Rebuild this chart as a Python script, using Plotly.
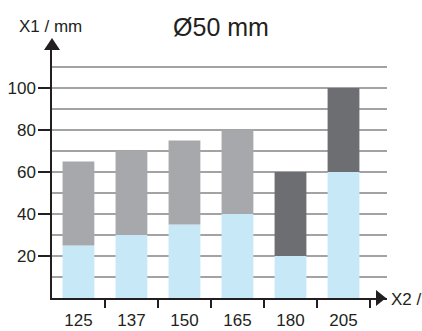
import plotly.graph_objects as go

# Data
categories = ["125", "137", "150", "165", "180", "205"]
lower_values = [25, 30, 35, 40, 20, 60]      # light blue part
upper_values = [65, 70, 75, 80, 60, 100]     # top of each stacked bar
upper_group = ["light", "light", "light", "light", "dark", "dark"]
y_tick_values = [20, 40, 60, 80, 100]

W, H = 422, 331
ML, MR, MT, MB = 52, 35, 50, 33
PW, PH = W - ML - MR, H - MT - MB

def px(x):
    return (x - ML) / PW

def py(y):
    return (H - MB - y) / PH

INK = "#231f20"
GRID = "#a3a3a3"
FONT = "Liberation Sans, Arial, sans-serif"

xs = list(range(len(categories)))
seg = [u - l for u, l in zip(upper_values, lower_values)]
seg_colors = ["#a7a8ab" if g == "light" else "#6d6e71" for g in upper_group]

fig = go.Figure()
fig.add_trace(go.Bar(x=xs, y=lower_values, width=0.6,
                     marker=dict(color="#c6e8f7", line=dict(width=0)),
                     hoverinfo="skip"))
fig.add_trace(go.Bar(x=xs, y=seg, base=lower_values, width=0.6,
                     marker=dict(color=seg_colors, line=dict(width=0)),
                     hoverinfo="skip"))

fig.update_layout(
    width=W, height=H,
    margin=dict(l=ML, r=MR, t=MT, b=MB, pad=0, autoexpand=False),
    paper_bgcolor="white", plot_bgcolor="white",
    showlegend=False, barmode="overlay",
    font=dict(family=FONT, color=INK, size=17),
    title=dict(text="Ø50 mm", x=221 / W, xref="container", xanchor="center",
               y=1 - 27 / H, yref="container", yanchor="middle",
               font=dict(size=25, color=INK, family=FONT)),
    xaxis=dict(range=[-0.499, -0.5 + PW / 53.0], automargin=False,
               tickmode="array", tickvals=xs, ticktext=categories,
               ticks="", showgrid=False, zeroline=False,
               showline=True, linecolor=INK, linewidth=1.5,
               tickfont=dict(size=17, color=INK), ticklabelstandoff=6,
               minor=dict(tick0=0.5, dtick=1, ticks="outside", ticklen=8,
                          tickwidth=1.5, tickcolor=INK, showgrid=False)),
    yaxis=dict(range=[0, PH / 2.1], automargin=False,
               tickmode="array", tickvals=y_tick_values,
               ticks="outside", ticklen=12, tickwidth=1.5, tickcolor=INK,
               showgrid=True, gridcolor=GRID, gridwidth=1.5,
               zeroline=False, showline=True, linecolor=INK, linewidth=1.5,
               tickfont=dict(size=17, color=INK), ticklabelstandoff=-1,
               minor=dict(tick0=0, dtick=10, showgrid=True, gridcolor=GRID,
                          gridwidth=1.5, ticks="")),
)

# axis labels
fig.add_annotation(text="X1 / mm", xref="paper", yref="paper",
                   x=px(50), y=py(26), xanchor="center", yanchor="middle",
                   showarrow=False, font=dict(size=17, color=INK, family=FONT))
fig.add_annotation(text="X2 / mm", xref="paper", yref="paper",
                   x=px(389), y=py(299), xanchor="left", yanchor="middle",
                   showarrow=False, font=dict(size=17, color=INK, family=FONT))

# arrow heads
fig.add_shape(type="path", xref="paper", yref="paper",
              path=f"M {px(44)},{py(50)} L {px(60)},{py(50)} L {px(52)},{py(38)} Z",
              fillcolor=INK, line=dict(width=0))
fig.add_shape(type="path", xref="paper", yref="paper",
              path=f"M {px(376)},{py(290)} L {px(376)},{py(306)} L {px(386)},{py(298)} Z",
              fillcolor=INK, line=dict(width=0))

fig.write_html("out.html", config={"displayModeBar": False},
               post_script="document.body.style.margin='0';document.body.style.overflow='hidden';")
